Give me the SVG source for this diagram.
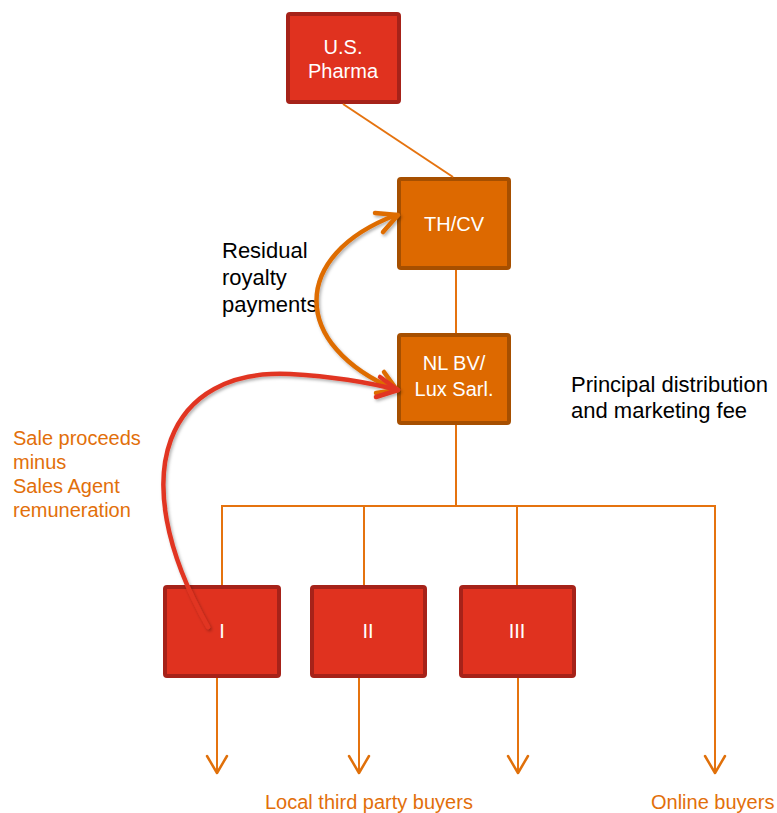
<svg xmlns="http://www.w3.org/2000/svg" width="777" height="813" viewBox="0 0 777 813">
<style>
.red rect{fill:#E0321F;stroke:#A62219;stroke-width:4}
.org rect{fill:#DD6900;stroke:#A64F00;stroke-width:4}
.bt{font-family:"Liberation Sans",Arial,sans-serif;font-size:20px;fill:#FFFFFF;text-anchor:middle}
.blk{font-family:"Liberation Sans",Arial,sans-serif;font-size:22px;fill:#000000}
.otx{font-family:"Liberation Sans",Arial,sans-serif;font-size:20px;fill:#E26F0A}
.ln{fill:none;stroke:#E5730F;stroke-width:2}
.ah{fill:none;stroke:#E0700A;stroke-width:2.5;stroke-linecap:round;stroke-linejoin:round}
.cr{fill:none;stroke:#E13623;stroke-width:4.5;stroke-linecap:round;stroke-linejoin:round}
.co{fill:none;stroke:#DE6C00;stroke-width:4.5;stroke-linecap:round;stroke-linejoin:round}
</style>
<defs>
<filter id="sh" x="-20%" y="-20%" width="140%" height="140%">
<feDropShadow dx="1.5" dy="2" stdDeviation="1.5" flood-color="#000" flood-opacity="0.3"/>
</filter>
</defs>
<g id="us-pharma" class="red">
<rect x="288" y="14" width="111" height="88" rx="2"/>
<text class="bt" x="343" y="54">U.S.</text>
<text class="bt" x="343" y="78">Pharma</text>
</g>
<g id="th-cv" class="org">
<rect x="399" y="179" width="110" height="89" rx="2"/>
<text class="bt" x="454" y="231">TH/CV</text>
</g>
<g id="nl-bv" class="org">
<rect x="399" y="335" width="110" height="88" rx="2"/>
<text class="bt" x="454" y="370">NL BV/</text>
<text class="bt" x="454" y="396">Lux Sarl.</text>
</g>
<g id="sub-i" class="red">
<rect x="165" y="587" width="114" height="89" rx="2"/>
<text class="bt" x="222" y="638">I</text>
</g>
<g id="sub-ii" class="red">
<rect x="312" y="587" width="113" height="89" rx="2"/>
<text class="bt" x="368" y="638">II</text>
</g>
<g id="sub-iii" class="red">
<rect x="461" y="587" width="113" height="89" rx="2"/>
<text class="bt" x="517" y="638">III</text>
</g>
<g id="labels">
<text class="blk" x="222" y="258">Residual</text>
<text class="blk" x="222" y="285">royalty</text>
<text class="blk" x="222" y="312">payments</text>
<text class="blk" x="571" y="392">Principal distribution</text>
<text class="blk" x="571" y="418">and marketing fee</text>
<text class="otx" x="13" y="445">Sale proceeds</text>
<text class="otx" x="13" y="469">minus</text>
<text class="otx" x="13" y="493">Sales Agent</text>
<text class="otx" x="13" y="517">remuneration</text>
<text class="otx" x="265" y="809">Local third party buyers</text>
<text class="otx" x="651" y="809">Online buyers</text>
</g>
<g id="connectors">
<line class="ln" x1="343" y1="104" x2="453" y2="177"/>
<line class="ln" x1="456" y1="270" x2="456" y2="333"/>
<line class="ln" x1="456" y1="425" x2="456" y2="506"/>
<line class="ln" x1="221" y1="506" x2="716" y2="506"/>
<line class="ln" x1="222" y1="506" x2="222" y2="585"/>
<line class="ln" x1="364" y1="506" x2="364" y2="585"/>
<line class="ln" x1="517" y1="506" x2="517" y2="585"/>
<line class="ln" x1="715" y1="506" x2="715" y2="773"/>
<line class="ln" x1="217" y1="678" x2="217" y2="773"/>
<line class="ln" x1="359" y1="678" x2="359" y2="773"/>
<line class="ln" x1="518" y1="678" x2="518" y2="773"/>
<polyline class="ah" points="207,756 217,773 227,756"/>
<polyline class="ah" points="349,756 359,773 369,756"/>
<polyline class="ah" points="508,756 518,773 528,756"/>
<polyline class="ah" points="705,756 715,773 725,756"/>
<g filter="url(#sh)">
<path class="co" d="M396,390 C290,345 290,255 396,215"/>
<polyline class="co" points="375,213 398,215 383,232"/>
<polyline class="co" points="384,372 397,390 376,393"/>
<path class="cr" d="M208,627 C120,470 170,368 290,374 C340,377 375,384 398,390"/>
<polyline class="cr" points="380,377 398,390 376,397"/>
</g>
</g>
</svg>
